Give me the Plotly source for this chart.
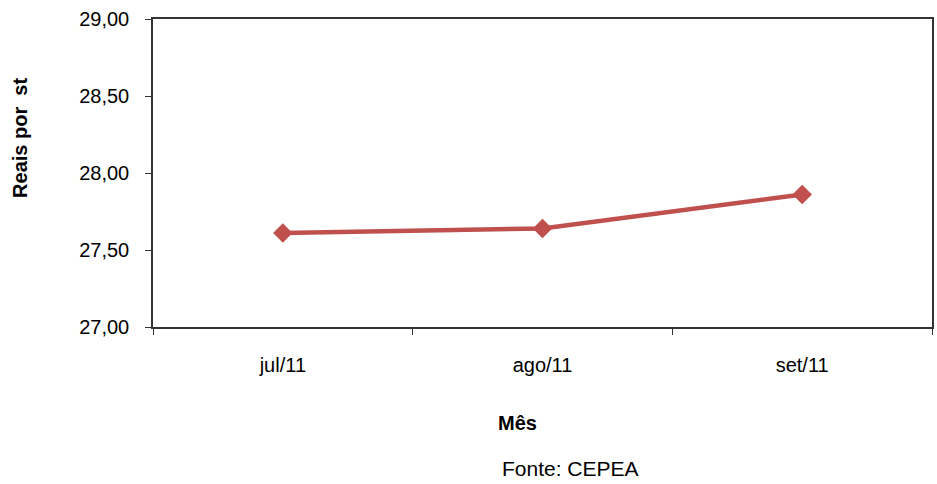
import plotly.graph_objects as go

# Monthly price series (R$ per stere)
meses = ["jul/11", "ago/11", "set/11"]
precos = [27.61, 27.64, 27.86]

y_ticks = [27.0, 27.5, 28.0, 28.5, 29.0]

FONT = "Liberation Sans, Arial, sans-serif"
LINE_COLOR = "#C0504D"

x_pos = list(range(len(meses)))

fig = go.Figure()
fig.add_trace(go.Scatter(
    x=x_pos,
    y=precos,
    mode="lines+markers",
    line=dict(color=LINE_COLOR, width=4.5),
    marker=dict(symbol="diamond", size=15, color=LINE_COLOR),
    hoverinfo="skip",
    showlegend=False,
))

fig.update_layout(
    width=937,
    height=484,
    margin=dict(l=153, r=3, t=19, b=157),
    paper_bgcolor="white",
    plot_bgcolor="white",
    separators=",.",
    font=dict(family=FONT, size=20, color="black"),
    xaxis=dict(
        range=[-0.5, len(meses) - 0.5],
        tickmode="array",
        tickvals=x_pos,
        ticktext=meses,
        ticks="",
        showgrid=False,
        zeroline=False,
        showline=True,
        linecolor="#333333",
        linewidth=1.5,
        mirror=True,
        ticklabelstandoff=19,
        minor=dict(
            tickmode="array",
            tickvals=[i - 0.5 for i in range(len(meses) + 1)],
            ticks="outside",
            ticklen=6,
            tickcolor="#333333",
            tickwidth=1,
            showgrid=False,
        ),
        fixedrange=True,
    ),
    yaxis=dict(
        range=[y_ticks[0], y_ticks[-1]],
        tickmode="array",
        tickvals=y_ticks,
        tickformat=".2f",
        ticks="outside",
        ticklen=6,
        tickcolor="#333333",
        showgrid=False,
        zeroline=False,
        showline=True,
        linecolor="#333333",
        linewidth=1.5,
        mirror=True,
        ticklabelstandoff=12,
        fixedrange=True,
    ),
)

# Axis titles and source note
fig.add_annotation(
    text="<b>Reais por  st</b>", textangle=-90,
    xref="paper", yref="paper", x=-153 / 781, y=(327 - 137.5) / 308,
    xanchor="left", yanchor="middle", xshift=6,
    showarrow=False, font=dict(family=FONT, size=20),
)
fig.add_annotation(
    text="<b>Mês</b>",
    xref="paper", yref="paper", x=(518 - 153) / 781, y=-(423 - 327) / 308,
    xanchor="center", yanchor="middle",
    showarrow=False, font=dict(family=FONT, size=20),
)
fig.add_annotation(
    text="Fonte: CEPEA",
    xref="paper", yref="paper", x=(572 - 153) / 781, y=-(468.5 - 327) / 308,
    xanchor="center", yanchor="middle",
    showarrow=False, font=dict(family=FONT, size=21),
)

fig.write_html("out.html")
